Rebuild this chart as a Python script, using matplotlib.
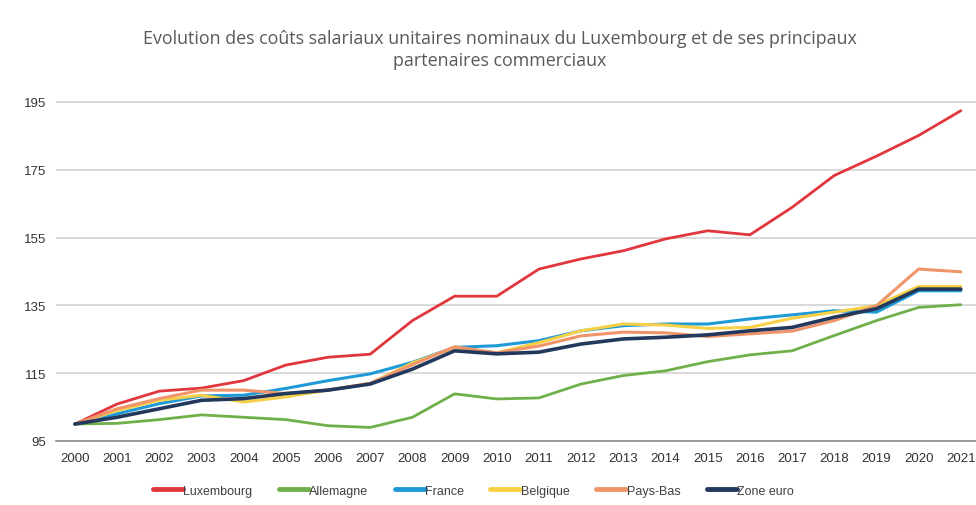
import matplotlib
matplotlib.use("Agg")
import matplotlib.pyplot as plt

# données (indice 2000 = 100)
years = [str(y) for y in range(2000, 2022)]

luxembourg = [100, 105.9, 109.7, 110.6, 112.8, 117.4, 119.7, 120.6, 130.5, 137.7, 137.7,
              145.7, 148.7, 151.1, 154.6, 157.0, 155.8, 163.9, 173.3, 179.0, 185.1, 192.4]
allemagne = [100, 100.2, 101.3, 102.7, 102.0, 101.3, 99.5, 99.0, 102.0, 108.9, 107.4,
             107.7, 111.8, 114.3, 115.7, 118.4, 120.4, 121.6, 126.1, 130.5, 134.4, 135.2]
france = [100, 103.0, 106.0, 108.3, 108.5, 110.5, 112.8, 114.8, 118.2, 122.6, 123.1,
          124.6, 127.5, 129.0, 129.5, 129.5, 131.0, 132.2, 133.4, 133.0, 139.3, 139.3]
belgique = [100, 104.0, 107.0, 108.5, 106.5, 108.0, 110.0, 112.0, 118.0, 122.5, 121.0,
            124.0, 127.5, 129.5, 129.2, 128.2, 128.5, 131.2, 133.0, 134.9, 140.6, 140.6]
pays_bas = [100, 104.5, 107.5, 110.0, 110.0, 109.0, 110.0, 112.0, 117.5, 122.8, 121.0,
            123.0, 126.0, 127.1, 126.9, 125.8, 126.6, 127.4, 130.5, 134.9, 145.7, 144.9]
zone_euro = [100, 102.0, 104.5, 107.0, 107.5, 109.0, 110.0, 111.8, 116.2, 121.6, 120.7,
             121.2, 123.6, 125.1, 125.6, 126.3, 127.5, 128.5, 131.5, 134.0, 139.8, 139.8]

series = [
    ("Luxembourg", luxembourg, "#E0363D", 2.0),
    ("Allemagne", allemagne, "#6FB04A", 2.0),
    ("France", france, "#1E9AD6", 2.2),
    ("Belgique", belgique, "#F7D047", 2.2),
    ("Pays-Bas", pays_bas, "#F0956A", 2.2),
    ("Zone euro", zone_euro, "#22385C", 2.6),
]

plt.rcParams["font.family"] = ["Liberation Sans", "DejaVu Sans"]

fig = plt.figure(figsize=(9.76, 5.06), dpi=100)
ax = fig.add_axes([0.0573, 0.1265, 0.9427, 0.6835])

x = list(range(len(years)))
for name, vals, col, lw in series:
    ax.plot(x, vals, color=col, linewidth=lw, label=name, solid_capstyle="round")

ax.set_xlim(-0.45, 21.36)
ax.set_ylim(95, 197)
ax.set_yticks([95, 115, 135, 155, 175, 195])
ax.set_xticks(x)
ax.set_xticklabels(years)
ax.tick_params(axis="both", length=0, labelsize=9.5, colors="#333333")
ax.tick_params(axis="x", pad=8)
ax.tick_params(axis="y", pad=7)
ax.grid(axis="y", color="#CFCFCF", linewidth=1.1)
ax.set_axisbelow(True)
for s in ["top", "right", "left"]:
    ax.spines[s].set_visible(False)
ax.spines["bottom"].set_color("#8C8C8C")
ax.spines["bottom"].set_linewidth(1.2)

fig.text(0.512, 0.922, "Evolution des coûts salariaux unitaires nominaux du Luxembourg et de ses principaux",
         ha="center", va="center", fontsize=12.9, color="#595959", family=["Open Sans", "DejaVu Sans"])
fig.text(0.512, 0.879, "partenaires commerciaux",
         ha="center", va="center", fontsize=12.9, color="#595959", family=["Open Sans", "DejaVu Sans"])

leg = fig.legend(loc="center", bbox_to_anchor=(0.485, 0.028), ncol=6, frameon=False,
                 fontsize=9, handlelength=2.4, handletextpad=0.05, columnspacing=2.1)
for line in leg.get_lines():
    line.set_linewidth(3.5)
for t in leg.get_texts():
    t.set_color("#404040")

fig.savefig("out.png", dpi=100)
